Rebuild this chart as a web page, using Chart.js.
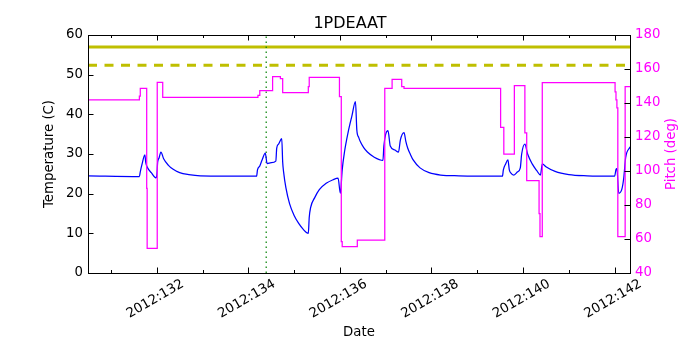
<!DOCTYPE html>
<html>
<head>
<meta charset="utf-8">
<style>
  html, body { margin: 0; padding: 0; background: #ffffff; }
  #wrap { width: 700px; height: 350px; }
</style>
<script src="https://cdn.jsdelivr.net/npm/chart.js@4.4.1/dist/chart.umd.min.js"></script>
</head>
<body>
<div id="wrap"><canvas id="c" width="700" height="350"></canvas></div>
<script>
// ---- data ----
const chartTitle = '1PDEAAT';
const xMin = 130.498;
const xMax = 142.336;
const xTickDays = [131, 132, 133, 134, 135, 136, 137, 138, 139, 140, 141, 142];
const xLabelDays = [132, 134, 136, 138, 140, 142];
const xLabelPrefix = '2012:';
const tempTicks = [0, 10, 20, 30, 40, 50, 60];
const pitchTicks = [40, 60, 80, 100, 120, 140, 160, 180];

const tempDay = [130.50, 131.62, 131.64, 131.68, 131.74, 131.76, 131.80, 131.88, 131.98, 132.00,
  132.02, 132.05, 132.09, 132.15, 132.25, 132.35, 132.50, 132.70, 132.95, 134.18,
  134.20, 134.25, 134.30, 134.37, 134.41, 134.50, 134.60, 134.62, 134.66, 134.73,
  134.75, 134.77, 134.82, 134.90, 135.00, 135.10, 135.20, 135.31, 135.33, 135.36,
  135.45, 135.55, 135.70, 135.85, 135.96, 136.01, 136.05, 136.10, 136.18, 136.26,
  136.34, 136.37, 136.41, 136.45, 136.52, 136.60, 136.75, 136.94, 136.96, 137.00, 137.05, 137.10,
  137.20, 137.28, 137.32, 137.40, 137.44, 137.48, 137.54, 137.60, 137.75, 137.95, 138.20, 138.60,
  139.55, 139.57, 139.62, 139.67, 139.70, 139.75, 139.80, 139.88, 139.94, 139.97,
  140.04, 140.10, 140.20, 140.30, 140.38, 140.42, 140.50, 140.70, 141.00, 141.40,
  142.00, 142.03, 142.05, 142.09, 142.16, 142.20, 142.24, 142.34];
const tempVal = [24.5, 24.3, 25.5, 27.5, 29.8, 27.8, 26.5, 25.3, 24.0, 24.5,
  28.0, 29.0, 30.5, 28.8, 27.2, 26.2, 25.3, 24.8, 24.5, 24.4,
  26.0, 27.0, 28.5, 30.2, 27.6, 27.8, 28.2, 31.5, 32.5, 33.9,
  28.0, 25.5, 21.5, 17.5, 14.5, 12.5, 11.0, 10.0, 14.0, 16.5,
  19.0, 21.0, 22.6, 23.5, 23.9, 20.1, 26.0, 30.5, 35.5, 39.5,
  43.2, 36.0, 34.2, 33.0, 31.6, 30.5, 29.2, 28.4, 32.0, 35.0, 35.9, 32.0,
  31.0, 30.5, 33.5, 35.4, 33.2, 31.5, 29.9, 28.5, 26.5, 25.3, 24.7, 24.5,
  24.4, 26.0, 27.5, 28.5, 26.0, 25.0, 24.7, 25.5, 26.5, 30.0,
  32.5, 30.0, 27.5, 25.8, 24.7, 27.5, 26.8, 25.6, 24.8, 24.5,
  24.4, 26.1, 26.3, 20.1, 21.2, 24.0, 29.0, 31.8];

const pitchDay = [130.50, 131.62, 131.64, 131.78, 131.79, 132.01, 132.13, 134.21, 134.25, 134.53,
  134.70, 134.75, 135.31, 135.33, 135.99, 136.03, 136.05, 136.38, 136.98, 137.14,
  137.35, 137.40, 139.51, 139.58, 139.81, 140.04, 140.08, 140.35, 140.37, 140.42,
  142.01, 142.03, 142.05, 142.07, 142.23, 142.34];
const pitchVal = [141.8, 144.0, 148.6, 89.8, 54.5, 152.2, 143.3, 144.5, 147.3, 155.5,
  154.4, 146.1, 149.6, 155.1, 143.7, 58.4, 55.5, 59.4, 148.6, 153.9,
  149.6, 148.6, 125.7, 110.0, 150.2, 122.5, 94.3, 75.0, 61.4, 152.0,
  146.6, 141.8, 137.2, 61.4, 149.6, 149.6];

const limitSolid = 57.0;
const limitDashed = 52.4;
const markerDay = 134.39;

// ---- build datasets ----
const pts = (xs, ys) => xs.map((x, i) => ({ x: x, y: ys[i] }));
const FONT = 'DejaVu Sans';
Chart.defaults.font.family = FONT;
Chart.defaults.color = '#000000';

const decor = {
  id: 'decor',
  afterDraw(chart) {
    const ctx = chart.ctx;
    const a = chart.chartArea;
    const xs = chart.scales.x, yl = chart.scales.y, yr = chart.scales.y1;
    ctx.save();
    ctx.strokeStyle = '#000000';
    ctx.lineWidth = 1;
    // frame
    ctx.strokeRect(Math.round(a.left) + 0.5, Math.round(a.top) + 0.5,
      Math.round(a.right - a.left), Math.round(a.bottom - a.top));
    ctx.beginPath();
    // x ticks (bottom & top), inward
    xTickDays.forEach(d => {
      const px = Math.round(xs.getPixelForValue(d)) + 0.5;
      const len = xLabelDays.includes(d) ? 5.5 : 3;
      ctx.moveTo(px, a.bottom); ctx.lineTo(px, a.bottom - len);
      ctx.moveTo(px, a.top); ctx.lineTo(px, a.top + len);
    });
    tempTicks.forEach(v => {
      const py = Math.round(yl.getPixelForValue(v)) + 0.5;
      ctx.moveTo(a.left, py); ctx.lineTo(a.left + 5.5, py);
    });
    pitchTicks.forEach(v => {
      const py = Math.round(yr.getPixelForValue(v)) + 0.5;
      ctx.moveTo(a.right, py); ctx.lineTo(a.right - 5.5, py);
    });
    ctx.stroke();
    // rotated x labels, centred on tick
    ctx.fillStyle = '#000000';
    ctx.font = '13.3px "' + FONT + '"';
    ctx.textAlign = 'center';
    ctx.textBaseline = 'middle';
    xLabelDays.forEach(d => {
      const px = xs.getPixelForValue(d);
      ctx.save();
      ctx.translate(px - 1.5, a.bottom + 26);
      ctx.rotate(-Math.PI / 6);
      ctx.fillText(xLabelPrefix + d, 0, 0);
      ctx.restore();
    });
    // right axis title
    ctx.save();
    ctx.fillStyle = '#ff00ff';
    ctx.translate(672, (a.top + a.bottom) / 2);
    ctx.rotate(-Math.PI / 2);
    ctx.fillText('Pitch (deg)', 0, 0);
    ctx.restore();
    ctx.restore();
  }
};

new Chart(document.getElementById('c'), {
  type: 'line',
  data: {
    datasets: [
      { data: pts(pitchDay, pitchVal), yAxisID: 'y1', borderColor: '#ff00ff', borderWidth: 1.25,
        stepped: true, pointRadius: 0, fill: false },
      { data: pts(tempDay, tempVal), yAxisID: 'y', borderColor: '#0000ff', borderWidth: 1.25,
        pointRadius: 0, fill: false, cubicInterpolationMode: 'monotone' },
      { data: [{ x: markerDay, y: 0 }, { x: markerDay, y: 60 }], yAxisID: 'y', borderColor: '#008000',
        borderWidth: 1.2, borderDash: [1.5, 3.5], pointRadius: 0 },
      { data: [{ x: xMin, y: limitSolid }, { x: xMax, y: limitSolid }], yAxisID: 'y', borderColor: '#bfbf00',
        borderWidth: 3, pointRadius: 0 },
      { data: [{ x: xMin, y: limitDashed }, { x: xMax, y: limitDashed }], yAxisID: 'y', borderColor: '#bfbf00',
        borderWidth: 3, borderDash: [9, 7.5], pointRadius: 0 }
    ]
  },
  options: {
    responsive: false,
    devicePixelRatio: 1,
    animation: false,
    layout: { padding: 0 },
    plugins: {
      legend: { display: false },
      tooltip: { enabled: false },
      title: { display: true, text: chartTitle, color: '#000000',
        font: { size: 16, weight: 'normal', lineHeight: 1.2 }, padding: { top: 14, bottom: 1.8 } }
    },
    scales: {
      x: {
        type: 'linear', min: xMin, max: xMax,
        grid: { display: false, drawTicks: false },
        border: { display: false },
        ticks: { display: false },
        title: { display: true, text: 'Date', font: { size: 13.3 }, padding: { top: 0, bottom: 9 } },
        afterFit(s) { s.height = 77; }
      },
      y: {
        position: 'left', min: 0, max: 60,
        grid: { display: false, drawTicks: false },
        border: { display: false },
        ticks: { stepSize: 10, font: { size: 13.3 }, padding: 5, color: '#000000' },
        title: { display: true, text: 'Temperature (C)', font: { size: 13.3 }, padding: { top: 42, bottom: 0 } },
        afterFit(s) { s.width = 88; }
      },
      y1: {
        position: 'right', min: 40, max: 180,
        grid: { display: false, drawTicks: false },
        border: { display: false },
        ticks: { stepSize: 20, font: { size: 13.3 }, padding: 5, color: '#ff00ff' },
        afterFit(s) { s.width = 70; }
      }
    }
  },
  plugins: [decor]
});
</script>
</body>
</html>
